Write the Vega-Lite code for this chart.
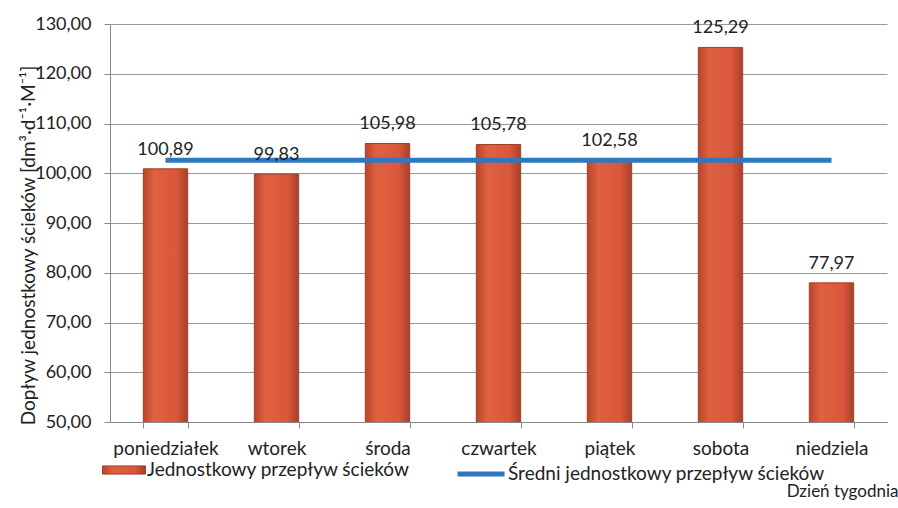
{
  "$schema": "https://vega.github.io/schema/vega-lite/v6.json",
  "width": 777,
  "height": 398,
  "autosize": {"type": "none"},
  "padding": {"left": 110, "top": 24, "right": 11, "bottom": 86},
  "background": "white",
  "config": {
    "font": "Lato",
    "view": {"stroke": null},
    "axis": {"labelColor": "#222", "titleColor": "#222", "domainColor": "#888", "tickColor": "#888", "labelFont": "Lato", "titleFont": "Lato", "titleFontWeight": "normal"}
  },
  "data": {
    "values": [
      {"dzien": "poniedziałek", "v": 100.89, "srednia": 102.62},
      {"dzien": "wtorek", "v": 99.83, "srednia": 102.62},
      {"dzien": "środa", "v": 105.98, "srednia": 102.62},
      {"dzien": "czwartek", "v": 105.78, "srednia": 102.62},
      {"dzien": "piątek", "v": 102.58, "srednia": 102.62},
      {"dzien": "sobota", "v": 125.29, "srednia": 102.62},
      {"dzien": "niedziela", "v": 77.97, "srednia": 102.62}
    ]
  },
  "encoding": {
    "x": {
      "field": "dzien", "type": "nominal", "sort": null,
      "scale": {"paddingInner": 0.6, "paddingOuter": 0.3},
      "axis": {
        "title": "Dzień tygodnia", "titleFontSize": 17, "titleX": 788, "titleY": 69, "titleAlign": "right", "titleBaseline": "middle", "titleAnchor": null,
        "labelAngle": 0, "labelFontSize": 19, "labelPadding": 11, "tickSize": 6, "domainColor": "#888", "tickBand": "extent", "labelOverlap": false
      }
    }
  },
  "layer": [
    {
      "mark": {
        "type": "bar", "clip": true,
        "fill": {"gradient": "linear", "x1": 0, "x2": 1, "y1": 0, "y2": 0,
          "stops": [{"offset": 0, "color": "#B8452D"}, {"offset": 0.25, "color": "#E0613F"}, {"offset": 0.75, "color": "#D9573B"}, {"offset": 1, "color": "#A8402A"}]},
        "strokeWidth": 1
      },
      "encoding": {
        "y": {
          "field": "v", "type": "quantitative",
          "scale": {"domain": [50, 130], "nice": false, "zero": false},
          "axis": {
            "title": "Dopływ jednostkowy  ścieków [dm³·d⁻¹·M⁻¹]", "titleFontSize": 19, "titleX": -82, "titleY": 221, "titleAlign": "center", "titleAngle": -90, "titleBaseline": "middle",
            "values": [50, 60, 70, 80, 90, 100, 110, 120, 130], "labelOverlap": false,
            "labelExpr": "replace(format(datum.value, '.2f'), '.', ',')",
            "labelFontSize": 18, "labelPadding": 13, "tickSize": 6,
            "grid": true, "gridColor": "#999", "gridWidth": 1
          }
        },
        "stroke": {
          "datum": "Jednostkowy przepływ ścieków", "type": "nominal",
          "scale": {"range": ["#A0402A"]},
          "legend": {
            "title": null, "orient": "none", "legendX": -8, "legendY": 424,
            "symbolType": "M-1,-0.19H1V0.19H-1Z", "symbolSize": 1849, "symbolFillColor": "#D65A3C", "symbolStrokeWidth": 1,
            "labelFontSize": 19, "labelColor": "#222", "labelOffset": 1, "labelFont": "Lato", "labelLimit": 500
          }
        }
      }
    },
    {
      "mark": {"type": "line", "strokeWidth": 5},
      "encoding": {
        "y": {"field": "srednia", "type": "quantitative"},
        "color": {
          "datum": "Średni jednostkowy przepływ ścieków", "type": "nominal",
          "scale": {"range": ["#2F77BF"]},
          "legend": {
            "title": null, "orient": "none", "legendX": 345, "legendY": 424,
            "symbolType": "stroke", "symbolSize": 2209, "symbolStrokeWidth": 5,
            "labelFontSize": 19, "labelColor": "#222", "labelOffset": 1, "labelFont": "Lato", "labelLimit": 500
          }
        }
      }
    },
    {
      "transform": [{"calculate": "replace(format(datum.v, '.2f'), '.', ',')", "as": "etykieta"}],
      "mark": {"type": "text", "baseline": "bottom", "dy": -10, "fontSize": 18, "color": "#222", "font": "Lato"},
      "encoding": {
        "y": {"field": "v", "type": "quantitative"},
        "text": {"field": "etykieta"}
      }
    }
  ],
  "resolve": {"legend": {"color": "independent", "stroke": "independent"}}
}
